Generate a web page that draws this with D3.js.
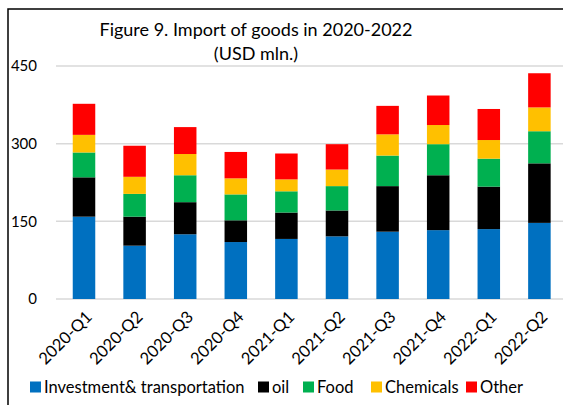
<!DOCTYPE html>
<html><head><meta charset="utf-8">
<script src="https://cdn.jsdelivr.net/npm/d3@7"></script>
<style>body{margin:0;background:#fff;} svg{display:block;font-family:Lato, "Open Sans", sans-serif;}</style>
</head><body><svg id="c" width="563" height="405"></svg>
<script>
const categories = ["2020-Q1","2020-Q2","2020-Q3","2020-Q4","2021-Q1","2021-Q2","2021-Q3","2021-Q4","2022-Q1","2022-Q2"];
const investment = [159,103,125,110,116,121,130,133,135,147];
const oil        = [76,56,62,42,51,50,88,106,82,115];
const food       = [48,44,52,50,41,47,59,60,54,62];
const chemicals  = [34,33,41,31,23,32,41,37,36,46];
const other      = [60,60,52,51,50,49,55,57,60,66];
const seriesNames = ["Investment& transportation","oil","Food","Chemicals","Other"];
const colors = ["#0070C0","#000000","#00B050","#FFC000","#FF0000"];
const yTicks = [0,150,300,450];

const svg = d3.select("#c");
const keys = ["investment","oil","food","chemicals","other"];
const rows = categories.map((c,i)=>({cat:c, investment:investment[i], oil:oil[i], food:food[i], chemicals:chemicals[i], other:other[i]}));
const stack = d3.stack().keys(keys)(rows);

const x = d3.scaleBand().domain(categories).range([58.7,564.7]).paddingInner(0.555).paddingOuter(0.2775);
const y = d3.scaleLinear().domain([0,450]).range([299,66]);

// frame
svg.append("rect").attr("x",8).attr("y",9).attr("width",600).attr("height",450)
  .attr("fill","none").attr("stroke","#000").attr("stroke-width",1.5);

// gridlines
svg.append("g").selectAll("line").data(yTicks).join("line")
  .attr("x1",56).attr("x2",563).attr("y1",d=>y(d)).attr("y2",d=>y(d))
  .attr("stroke","#d9d9d9").attr("stroke-width",1.5);

// y labels
svg.append("g").selectAll("text").data(yTicks).join("text")
  .attr("x",37).attr("y",d=>y(d)).attr("dy","0.35em").attr("text-anchor","end")
  .attr("font-size",15).attr("fill","#000").text(d=>d);

// bars
svg.append("g").selectAll("g").data(stack).join("g")
  .attr("fill",(d,i)=>colors[i])
  .selectAll("rect").data(d=>d).join("rect")
  .attr("x",d=>x(d.data.cat)).attr("width",x.bandwidth())
  .attr("y",d=>y(d[1])).attr("height",d=>y(d[0])-y(d[1]));

// x labels
svg.append("g").selectAll("text").data(categories).join("text")
  .attr("transform",d=>`translate(${x(d)+x.bandwidth()/2+5},${314}) rotate(-45)`)
  .attr("text-anchor","end").attr("dy","0.35em")
  .attr("font-size",16.5).attr("fill","#000").text(d=>d);

// title
svg.append("text").attr("x",256).attr("y",36).attr("text-anchor","middle")
  .attr("font-size",18).attr("fill","#000").text("Figure 9. Import of goods in 2020-2022");
svg.append("text").attr("x",256).attr("y",60).attr("text-anchor","middle")
  .attr("font-size",18).attr("fill","#000").text("(USD mln.)");

// legend
const legX = [30,258,303,371,466];
const lg = svg.append("g").selectAll("g").data(seriesNames).join("g")
  .attr("transform",(d,i)=>`translate(${legX[i]},387)`);
lg.append("rect").attr("x",0).attr("y",-5.5).attr("width",11).attr("height",11).attr("fill",(d,i)=>colors[i]);
lg.append("text").attr("x",14).attr("dy","0.35em").attr("font-size",16.5).attr("fill","#000").text(d=>d);
</script></body></html>
